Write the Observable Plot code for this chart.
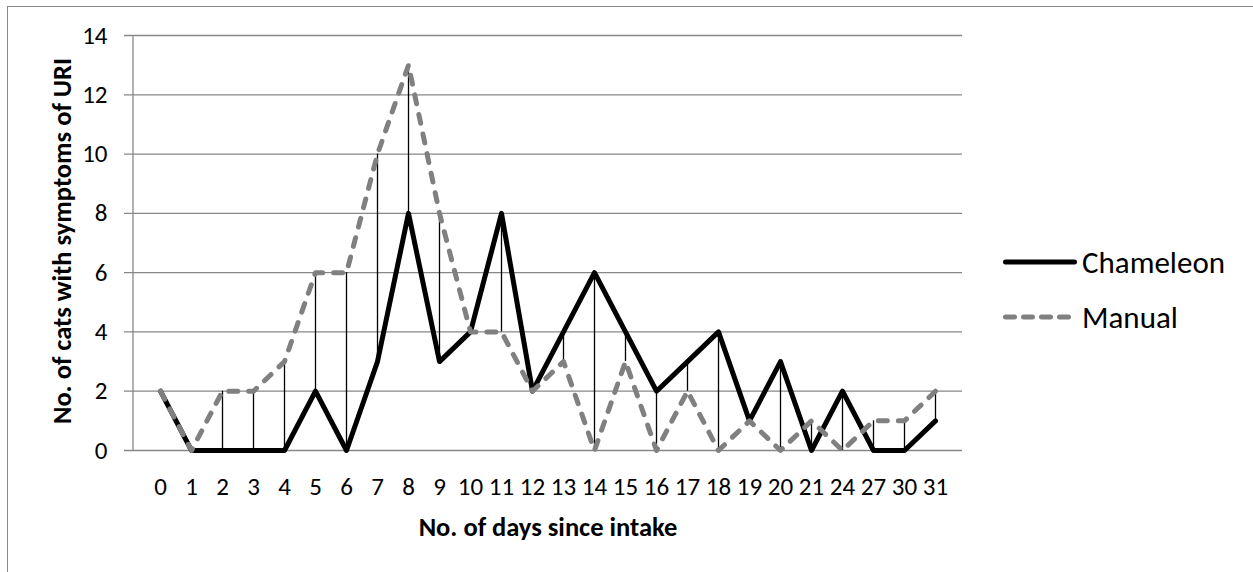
<!DOCTYPE html>
<html>
<head>
<meta charset="utf-8">
<script src="https://cdn.jsdelivr.net/npm/d3@7"></script>
<script src="https://cdn.jsdelivr.net/npm/@observablehq/plot@0.6"></script>
<style>
  html, body { margin: 0; padding: 0; background: #fff; overflow: hidden; }
  #wrap { position: relative; width: 1253px; height: 572px; overflow: hidden; font-family: Carlito, Lato, sans-serif; }
  #border { position: absolute; left: 7px; top: 6px; width: 1400px; height: 700px; border: 1.5px solid #878787; box-sizing: border-box; }
  #chart { position: absolute; left: 0; top: 0; }
  .leg { position: absolute; left: 1003px; display: flex; align-items: center; font-size: 31px; color: #000; height: 40px; }
  .leg svg { margin-right: 5px; }
</style>
</head>
<body>
<div id="wrap">
  <div id="border"></div>
  <div id="chart"></div>
  <div class="leg" style="top:242px">
    <svg width="74" height="10"><line x1="2.5" y1="5" x2="71.5" y2="5" stroke="#000" stroke-width="5" stroke-linecap="round"/></svg>
    <span>Chameleon</span>
  </div>
  <div class="leg" style="top:297px">
    <svg width="74" height="10"><line x1="2.5" y1="5" x2="71.5" y2="5" stroke="#808080" stroke-width="5" stroke-linecap="round" stroke-dasharray="9,9"/></svg>
    <span>Manual</span>
  </div>
</div>
<script>
const days = ["0","1","2","3","4","5","6","7","8","9","10","11","12","13","14","15","16","17","18","19","20","21","24","27","30","31"];
const chameleon = [2,0,0,0,0,2,0,3,8,3,4,8,2,4,6,4,2,3,4,1,3,0,2,0,0,1];
const manual = [2,0,2,2,3,6,6,10,13,8,4,4,2,3,0,3,0,2,0,1,0,1,0,1,1,2];
const yTicks = [0,2,4,6,8,10,12,14];
const xTitle = "No. of days since intake";
const yTitle = "No. of cats with symptoms of URI";

const rows = days.map((d, i) => ({day: d, chameleon: chameleon[i], manual: manual[i]}));

const yAxisLine = (index, scales, values, dims) => {
  const ns = "http://www.w3.org/2000/svg";
  const l = document.createElementNS(ns, "line");
  l.setAttribute("x1", dims.marginLeft);
  l.setAttribute("x2", dims.marginLeft);
  l.setAttribute("y1", dims.marginTop);
  l.setAttribute("y2", dims.height - dims.marginBottom);
  l.setAttribute("stroke", "#878787");
  l.setAttribute("stroke-width", "1.3");
  return l;
};

const chart = Plot.plot({
  width: 1253,
  height: 572,
  marginLeft: 133,
  marginRight: 291,
  marginTop: 35,
  marginBottom: 122,
  style: {fontFamily: 'Carlito, Lato, sans-serif', fontSize: "25px", background: "transparent", color: "#000"},
  x: {type: "point", domain: days, padding: 0.5, axis: null},
  y: {domain: [0, 14], axis: null},
  marks: [
    Plot.ruleY(yTicks, {stroke: "#878787", strokeWidth: 1.3, strokeOpacity: 1, insetLeft: -9}),
    yAxisLine,
    Plot.text(yTicks, {y: d => d, text: d => String(d), frameAnchor: "left", textAnchor: "end", lineAnchor: "middle", dx: -26, fontSize: 25, fill: "#000"}),
    Plot.text(days, {x: d => d, text: d => d, frameAnchor: "bottom", textAnchor: "middle", lineAnchor: "middle", dy: 36, fontSize: 25, fill: "#000"}),
    Plot.ruleX(rows, {x: "day", y1: "chameleon", y2: "manual", stroke: "#000", strokeWidth: 1.3}),
    Plot.lineY(rows, {x: "day", y: "chameleon", stroke: "#000", strokeWidth: 5}),
    Plot.lineY(rows, {x: "day", y: "manual", stroke: "#808080", strokeWidth: 5, strokeDasharray: "9,11", strokeLinecap: "round"}),
    Plot.text([xTitle], {frameAnchor: "bottom", lineAnchor: "middle", dy: 77, fontSize: 26.5, fontWeight: "bold", fill: "#000"}),
    Plot.text([yTitle], {frameAnchor: "left", textAnchor: "middle", lineAnchor: "middle", dx: -71, dy: -2, rotate: -90, fontSize: 26.5, fontWeight: "bold", fill: "#000"})
  ]
});
document.getElementById("chart").appendChild(chart);
</script>
</body>
</html>
